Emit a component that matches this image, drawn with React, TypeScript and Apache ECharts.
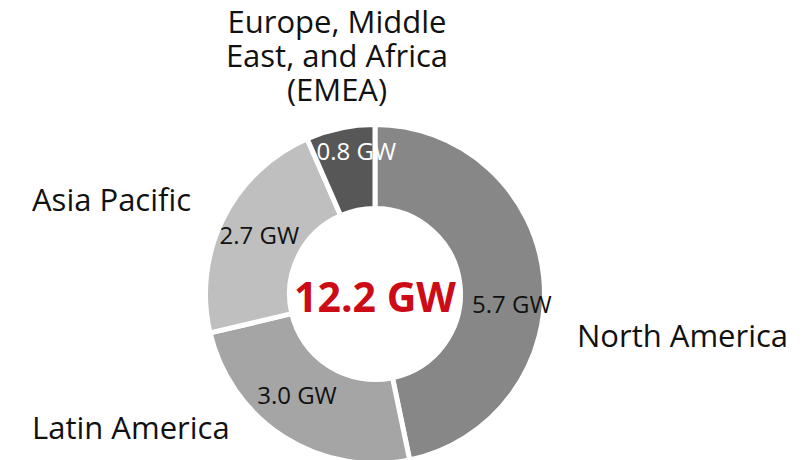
import React, { useEffect, useRef } from "react";
import * as echarts from "echarts";

// Capacity by region, in GW
const regions = ["North America", "Latin America", "Asia Pacific", "Europe, Middle\nEast, and Africa\n(EMEA)"];
const capacityGW = [5.7, 3.0, 2.7, 0.8];
const sliceColors = ["#878787", "#a5a5a5", "#bfbfbf", "#575757"];
const valueLabelColors = ["#111111", "#111111", "#111111", "#ffffff"];
const valueLabelOffsets: [number, number][] = [[7, 23], [-8, -10], [1, -1], [8, -16]];
const totalLabel = "12.2 GW";

const FONT = "'Open Sans', 'Noto Sans', sans-serif";

export default function App() {
  const ref = useRef<HTMLDivElement>(null);

  useEffect(() => {
    if (!ref.current) return;
    const chart = echarts.init(ref.current, undefined, { renderer: "svg" });

    const cx = 375;
    const cy = 294;

    chart.setOption({
      animation: false,
      backgroundColor: "#ffffff",
      series: [
        {
          type: "pie",
          center: [cx, cy],
          radius: [85.5, 169.5],
          startAngle: 90,
          clockwise: true,
          avoidLabelOverlap: false,
          itemStyle: { borderColor: "#ffffff", borderWidth: 5 },
          emphasis: { disabled: true },
          label: {
            show: true,
            position: "inside",
            fontFamily: FONT,
            fontSize: 24,
            formatter: (p: any) => `${Number(p.value).toFixed(1)} GW`,
          },
          labelLine: { show: false },
          data: capacityGW.map((v, i) => ({
            name: regions[i],
            value: v,
            itemStyle: { color: sliceColors[i] },
            label: { color: valueLabelColors[i], offset: valueLabelOffsets[i] },
          })),
        },
      ],
      graphic: [
        {
          type: "text",
          x: cx,
          y: 296,
          style: {
            text: totalLabel,
            fill: "#cc0b16",
            font: `bold 41px ${FONT}`,
            align: "center",
            verticalAlign: "middle",
          },
        },
        {
          type: "text",
          x: 577,
          y: 335,
          style: { text: regions[0], fill: "#111111", font: `31px ${FONT}`, align: "left", verticalAlign: "middle" },
        },
        {
          type: "text",
          x: 32,
          y: 427,
          style: { text: regions[1], fill: "#111111", font: `31px ${FONT}`, align: "left", verticalAlign: "middle" },
        },
        {
          type: "text",
          x: 32,
          y: 199,
          style: { text: regions[2], fill: "#111111", font: `31px ${FONT}`, align: "left", verticalAlign: "middle" },
        },
        {
          type: "text",
          x: 337,
          y: 55,
          style: {
            text: regions[3],
            fill: "#111111",
            font: `31px ${FONT}`,
            align: "center",
            verticalAlign: "middle",
            lineHeight: 34,
          },
        },
      ],
    });

    return () => chart.dispose();
  }, []);

  return (
    <div
      ref={ref}
      style={{ position: "fixed", left: 0, top: 0, width: 810, height: 460, background: "#ffffff" }}
    />
  );
}
